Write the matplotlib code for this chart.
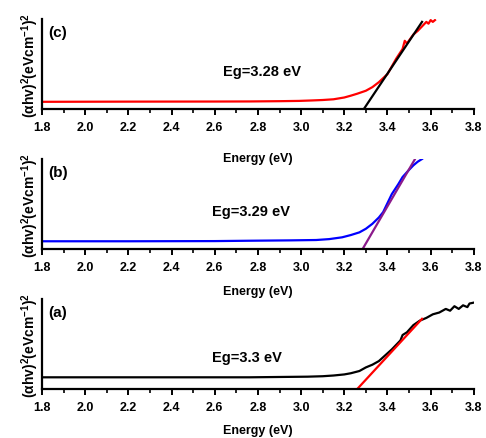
import numpy as np
import matplotlib
matplotlib.use('Agg')
import matplotlib.pyplot as plt
from matplotlib.ticker import MultipleLocator

plt.rcParams['font.family'] = ['Liberation Sans', 'DejaVu Sans']
plt.rcParams['font.weight'] = 'bold'
plt.rcParams['mathtext.fontset'] = 'custom'
plt.rcParams['mathtext.rm'] = 'Liberation Sans:bold'
plt.rcParams['mathtext.bf'] = 'Liberation Sans:bold'
plt.rcParams['mathtext.default'] = 'bf'

# panel (c) - red curve, black tangent
c_energy = [1.8, 2.2, 2.6, 2.76, 2.9, 2.99, 3.05, 3.10, 3.15, 3.20, 3.23, 3.26, 3.30, 3.33,
            3.36, 3.40, 3.44, 3.47, 3.48, 3.49, 3.52, 3.54, 3.56, 3.58, 3.59, 3.60, 3.61, 3.62]
c_signal = [0.82, 0.84, 0.85, 0.86, 0.89, 0.92, 0.97, 1.02, 1.1, 1.3, 1.5, 1.72, 2.05, 2.45,
            3.0, 3.9, 5.6, 6.7, 7.6, 7.3, 8.3, 8.7, 9.2, 9.7, 9.5, 9.9, 9.7, 9.9]
c_fit_x = [3.29, 3.56]
c_fit_y = [0.0, 9.7]

# panel (b) - blue curve, purple tangent
b_energy = [1.8, 2.2, 2.6, 2.76, 2.95, 3.07, 3.13, 3.19, 3.23, 3.27, 3.30, 3.33, 3.36, 3.38,
            3.42, 3.45, 3.47, 3.50, 3.52, 3.54, 3.56]
b_signal = [0.86, 0.86, 0.88, 0.92, 0.96, 1.0, 1.1, 1.3, 1.55, 1.85, 2.25, 2.8, 3.5, 4.1,
            6.1, 7.2, 8.0, 8.8, 9.3, 9.7, 10.0]
b_fit_x = [3.28, 3.53]
b_fit_y = [-0.2, 10.1]

# panel (a) - black curve, red tangent
a_energy = [1.8, 2.2, 2.6, 2.76, 3.03, 3.10, 3.15, 3.20, 3.23, 3.27, 3.30, 3.33, 3.36, 3.42,
            3.46, 3.47, 3.49, 3.52, 3.55, 3.58, 3.61, 3.64, 3.67, 3.69, 3.71, 3.73, 3.75,
            3.77, 3.78, 3.80]
a_signal = [1.3, 1.3, 1.3, 1.3, 1.37, 1.42, 1.5, 1.62, 1.75, 2.0, 2.4, 2.7, 3.1, 4.4,
            5.4, 6.0, 6.3, 7.1, 7.6, 7.9, 8.3, 8.5, 8.9, 8.7, 9.2, 8.9, 9.3,
            9.1, 9.5, 9.6]
a_fit_x = [3.25, 3.56]
a_fit_y = [-0.26, 7.8]

panels = [
    ('(c)', 'Eg=3.28 eV', c_energy, c_signal, 'red', c_fit_x, c_fit_y, 'black',
     0.749, 2.82, 4.2, 14),
    ('(b)', 'Eg=3.29 eV', b_energy, b_signal, 'blue', b_fit_x, b_fit_y, '#8b1a8b',
     0.4305, 2.77, 4.2, 9),
    ('(a)', 'Eg=3.3 eV', a_energy, a_signal, 'black', a_fit_x, a_fit_y, 'red',
     0.1116, 2.75, 3.6, 8),
]

fig = plt.figure(figsize=(4.86, 4.39), dpi=100)

for tag, eg, xs, ys, col, fx, fy, fcol, bottom, eg_x, eg_y, lpad in panels:
    ax = fig.add_axes([0.0864, bottom, 0.975 - 0.0864, 0.205])
    ax.patch.set_alpha(0)
    ax.plot(xs, ys, color=col, linewidth=1.6)
    ax.plot(fx, fy, color=fcol, linewidth=1.6)
    ax.set_xlim(1.8, 3.8)
    ax.set_ylim(0, 10)
    ax.spines['top'].set_visible(False)
    ax.spines['right'].set_visible(False)
    ax.spines['left'].set_linewidth(1.6)
    ax.spines['bottom'].set_linewidth(1.6)
    ax.xaxis.set_major_locator(MultipleLocator(0.2))
    ax.xaxis.set_minor_locator(MultipleLocator(0.1))
    ax.xaxis.set_major_formatter(matplotlib.ticker.FormatStrFormatter('%.1f'))
    ax.tick_params(axis='x', which='major', direction='out', length=4, width=1.4,
                   labelsize=9, pad=4.5)
    ax.tick_params(axis='x', which='minor', direction='out', length=3, width=1.2)
    ax.set_yticks([])
    for lab in ax.get_xticklabels():
        lab.set_fontweight('bold')
    ax.set_xlabel('Energy (eV)', fontsize=9, fontweight='bold', labelpad=lpad)
    ax.set_ylabel(r'($\alpha$hv)$^2$(eVcm$^{-1}$)$^2$', fontsize=10, fontweight='bold',
                  labelpad=1)
    ax.text(0.015, 0.86, tag, transform=ax.transAxes, fontsize=11, fontweight='bold',
            va='center', ha='left')
    ax.text(eg_x, eg_y, eg, fontsize=10.5, fontweight='bold', ha='center', va='center')

fig.savefig('out.png', dpi=100)
